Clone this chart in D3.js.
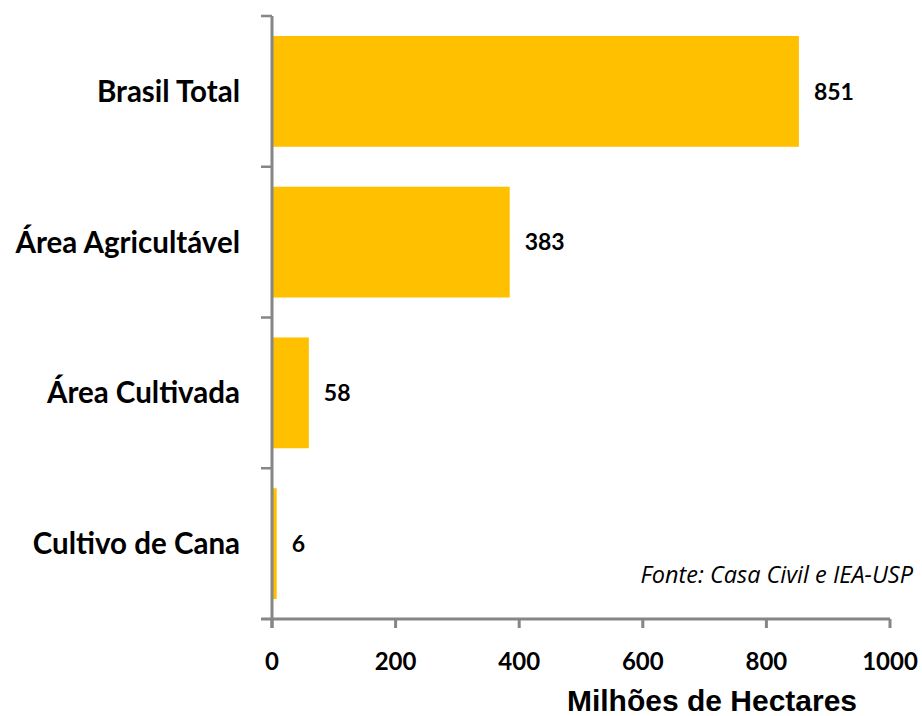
<!DOCTYPE html>
<html>
<head>
<meta charset="utf-8">
<script src="https://cdn.jsdelivr.net/npm/d3@7"></script>
<style>
  body { margin: 0; background: #fff; }
  svg { display: block; }
</style>
</head>
<body>
<svg id="canvas" width="922" height="716"></svg>
<script>
let categories = ['Brasil Total', 'Área Agricultável', 'Área Cultivada', 'Cultivo de Cana']
let values = [851, 383, 58, 6]
let xTicks = [0, 200, 400, 600, 800, 1000]
let axisTitle = 'Milhões de Hectares'
let sourceText = 'Fonte: Casa Civil e IEA-USP'

let canvas = d3.select('#canvas')

let gray = '#868686'
let barColor = '#FFC000'

let x = d3.scaleLinear()
  .domain([0, 1000])
  .range([272, 890])

let y = d3.scaleBand()
  .domain(categories)
  .range([16, 619])
  .paddingInner(0.265)
  .paddingOuter(0.1325)

let step = y.step()

// bars
canvas.selectAll('rect.bar')
  .data(values)
  .enter()
  .append('rect')
  .attr('class', 'bar')
  .attr('x', x(0) + 1)
  .attr('y', (d, i) => y(categories[i]))
  .attr('width', (d) => x(d) - x(0))
  .attr('height', y.bandwidth())
  .attr('fill', barColor)

// value labels
canvas.selectAll('text.val')
  .data(values)
  .enter()
  .append('text')
  .attr('class', 'val')
  .attr('x', (d) => x(d) + 16)
  .attr('y', (d, i) => y(categories[i]) + y.bandwidth() / 2)
  .attr('dy', '0.36em')
  .attr('font-family', 'Lato, sans-serif')
  .attr('font-weight', 'bold')
  .attr('font-size', 23)
  .attr('fill', '#000')
  .text((d) => d)

// y axis line + ticks at band boundaries
let boundaries = categories.map((c) => y(c) - step * y.paddingInner() / 2)
canvas.append('line')
  .attr('x1', x(0)).attr('x2', x(0))
  .attr('y1', boundaries[0]).attr('y2', 628)
  .attr('stroke', gray).attr('stroke-width', 3)
canvas.selectAll('line.ytick')
  .data(boundaries)
  .enter()
  .append('line')
  .attr('class', 'ytick')
  .attr('x1', 261).attr('x2', x(0))
  .attr('y1', (d) => d).attr('y2', (d) => d)
  .attr('stroke', gray).attr('stroke-width', 2.5)

// x axis
let xAxisY = 619
canvas.append('line')
  .attr('x1', 261).attr('x2', x(1000))
  .attr('y1', xAxisY).attr('y2', xAxisY)
  .attr('stroke', gray).attr('stroke-width', 3)
canvas.selectAll('line.xtick')
  .data(xTicks)
  .enter()
  .append('line')
  .attr('class', 'xtick')
  .attr('x1', (d) => x(d)).attr('x2', (d) => x(d))
  .attr('y1', xAxisY).attr('y2', 628)
  .attr('stroke', gray).attr('stroke-width', 3)
canvas.selectAll('text.xlab')
  .data(xTicks)
  .enter()
  .append('text')
  .attr('class', 'xlab')
  .attr('x', (d) => x(d))
  .attr('y', 670)
  .attr('text-anchor', 'middle')
  .attr('font-family', 'Lato, sans-serif')
  .attr('font-weight', 'bold')
  .attr('font-size', 24)
  .attr('fill', '#000')
  .text((d) => d)

// category labels
canvas.selectAll('text.cat')
  .data(categories)
  .enter()
  .append('text')
  .attr('class', 'cat')
  .attr('x', 240)
  .attr('y', (d) => y(d) + y.bandwidth() / 2)
  .attr('dy', '0.36em')
  .attr('text-anchor', 'end')
  .attr('font-family', 'Lato, sans-serif')
  .attr('font-weight', 'bold')
  .attr('font-size', 29.5)
  .attr('fill', '#000')
  .text((d) => d)

// axis title
canvas.append('text')
  .attr('x', 712)
  .attr('y', 711)
  .attr('text-anchor', 'middle')
  .attr('font-family', '"Liberation Sans", Arial, sans-serif')
  .attr('font-weight', 'bold')
  .attr('font-size', 30)
  .attr('fill', '#000')
  .text(axisTitle)

// source
canvas.append('text')
  .attr('x', 913)
  .attr('y', 583)
  .attr('text-anchor', 'end')
  .attr('font-family', '"Open Sans", sans-serif')
  .attr('font-style', 'italic')
  .attr('font-size', 23.5)
  .attr('fill', '#000')
  .text(sourceText)
</script>
</body>
</html>
